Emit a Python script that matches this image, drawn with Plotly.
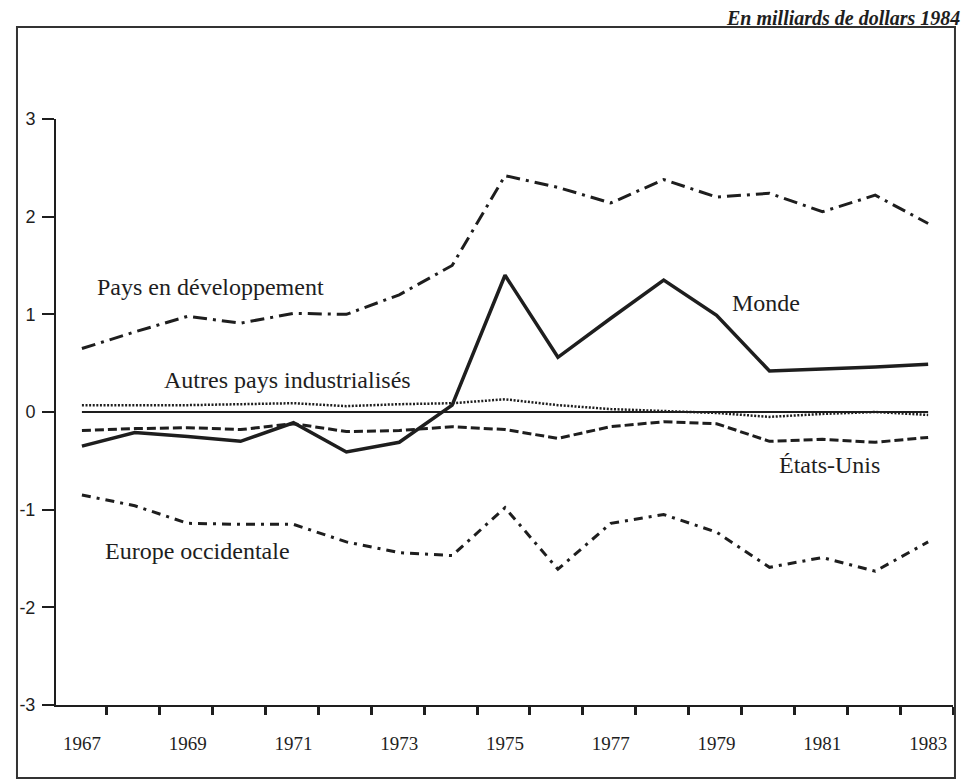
import plotly.graph_objects as go

# ---- data ----
years = list(range(1967, 1984))
pays_dev = [0.65, 0.82, 0.98, 0.91, 1.01, 1.00, 1.20, 1.50, 2.42, 2.30, 2.14, 2.38, 2.20, 2.24, 2.05, 2.22, 1.93]
monde = [-0.35, -0.21, -0.25, -0.30, -0.11, -0.41, -0.31, 0.07, 1.40, 0.56, 0.96, 1.35, 0.99, 0.42, 0.44, 0.46, 0.49]
autres_pays = [0.07, 0.07, 0.07, 0.08, 0.09, 0.06, 0.08, 0.09, 0.13, 0.07, 0.03, 0.01, -0.01, -0.05, -0.02, 0.0, -0.03]
etats_unis = [-0.19, -0.17, -0.16, -0.18, -0.12, -0.20, -0.19, -0.15, -0.18, -0.27, -0.15, -0.10, -0.12, -0.30, -0.28, -0.31, -0.26]
europe_occ = [-0.85, -0.96, -1.14, -1.15, -1.15, -1.33, -1.44, -1.47, -0.98, -1.61, -1.14, -1.05, -1.23, -1.59, -1.49, -1.63, -1.33]

x_tick_vals = years[::2]
x_tick_text = [str(y) for y in x_tick_vals]
y_tick_vals = [-3, -2, -1, 0, 1, 2, 3]
y_tick_text = ["-3", "-2", "-1", "0", "1", "2", "3"]

INK = "#1e1e1e"
SERIF = "Liberation Serif, Times New Roman, serif"

fig = go.Figure()

def add_line(y, dash, width):
    fig.add_trace(go.Scatter(
        x=years, y=y, mode="lines",
        line=dict(color=INK, width=width, dash=dash),
        showlegend=False, hoverinfo="skip",
    ))

add_line(pays_dev, "14px,6px,3px,6px", 3)
add_line(europe_occ, "9px,6px,3px,6px", 3)
add_line(etats_unis, "9px,4px", 3)
add_line(autres_pays, "2px,1.6px", 2.5)
add_line(monde, "solid", 3.5)

# zero reference line spanning the data years
fig.add_shape(type="line", xref="x", yref="y",
              x0=years[0], x1=years[-1], y0=0, y1=0,
              line=dict(color=INK, width=1.8), layer="below")

# outer frame
fig.add_shape(type="rect", xref="paper", yref="paper",
              x0=-0.0435, x1=1.0022, y0=-0.1246, y1=1.157,
              line=dict(color="#333333", width=2))

# series labels
labels = [
    ("Pays en développement", 1967.25, 1.28),
    ("Monde", 1979.26, 1.12),
    ("Autres pays industrialisés", 1968.51, 0.33),
    ("États-Unis", 1980.14, -0.54),
    ("Europe occidentale", 1967.40, -1.42),
]
for txt, lx, ly in labels:
    fig.add_annotation(x=lx, y=ly, xref="x", yref="y", text=txt,
                       showarrow=False, xanchor="left", yanchor="middle",
                       font=dict(family=SERIF, size=24, color=INK))

# unit note top right
fig.add_annotation(x=1.0105, y=1.172, xref="paper", yref="paper",
                   text="<b><i>En milliards de dollars 1984</i></b>",
                   showarrow=False, xanchor="right", yanchor="middle",
                   font=dict(family=SERIF, size=20, color=INK))

fig.update_layout(
    width=965, height=783,
    margin=dict(l=56, r=12, t=119, b=78),
    paper_bgcolor="white", plot_bgcolor="white",
    xaxis=dict(
        range=[1966.51, 1983.47],
        tickmode="array", tickvals=x_tick_vals, ticktext=x_tick_text,
        ticks="", showgrid=False, zeroline=False,
        showline=True, linewidth=2, linecolor=INK,
        ticklabelstandoff=20,
        tickfont=dict(family=SERIF, size=19, color=INK),
        minor=dict(tickmode="array", tickvals=[y + 0.47 for y in years],
                   ticks="outside", ticklen=8, tickwidth=2.5, tickcolor=INK,
                   showgrid=False),
    ),
    yaxis=dict(
        range=[-3, 3],
        tickmode="array", tickvals=y_tick_vals, ticktext=y_tick_text,
        ticks="outside", ticklen=12, tickwidth=2, tickcolor=INK,
        showgrid=False, zeroline=False,
        showline=True, linewidth=2, linecolor=INK,
        ticklabelstandoff=3,
        tickfont=dict(family="Liberation Sans Narrow, Liberation Sans, sans-serif", size=18, color=INK),
    ),
)

fig.write_html("out.html",
               config={"displayModeBar": False},
               post_script="document.body.style.margin='0';document.body.style.overflow='hidden';")
